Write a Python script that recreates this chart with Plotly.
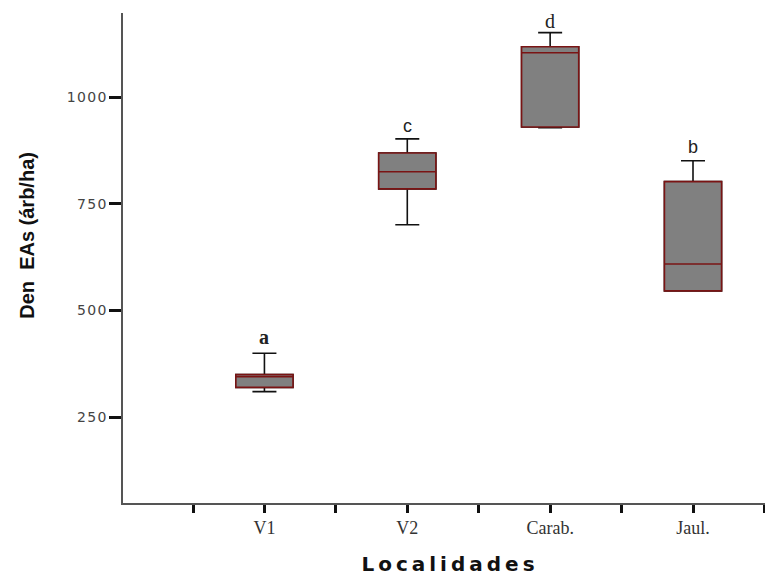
import plotly.graph_objects as go

categories = ["V1", "V2", "Carab.", "Jaul."]
lower_whisker = [310, 701, 928, 546]
q1 = [320, 785, 930, 546]
median = [345, 825, 1104, 609]
q3 = [350, 869, 1118, 802]
upper_whisker = [400, 902, 1151, 851]
letters = ["<b>a</b>", "c", "d", "b"]
letter_fonts = ["Liberation Serif", "Liberation Sans", "Liberation Serif", "Liberation Sans"]

y_ticks = [250, 500, 750, 1000]

xpos = list(range(len(categories)))
THIN = "\u2009"
HAIR = "\u200a"

fig = go.Figure()

# whiskers (black)
fig.add_trace(go.Box(
    x=xpos, q1=q1, median=median, q3=q3,
    lowerfence=lower_whisker, upperfence=upper_whisker,
    width=0.4, whiskerwidth=0.42,
    fillcolor="#808080", line=dict(color="#111111", width=1.6),
    boxpoints=False, showlegend=False, hoverinfo="skip",
))
# box body with dark red outline and median
fig.add_trace(go.Box(
    x=xpos, q1=q1, median=median, q3=q3,
    lowerfence=q1, upperfence=q3,
    width=0.4, whiskerwidth=0.0,
    fillcolor="#808080", line=dict(color="#7a1414", width=1.6),
    boxpoints=False, showlegend=False, hoverinfo="skip",
))

shifts = [16, 13, 12, 14]
for i, (lab, fnt) in enumerate(zip(letters, letter_fonts)):
    fig.add_annotation(
        x=xpos[i], y=upper_whisker[i], text=lab, showarrow=False,
        yanchor="middle", yshift=shifts[i],
        font=dict(family=fnt, size=20 if fnt.endswith("Serif") else 18, color="#222222"),
    )

# y-axis title placed as a rotated annotation (sits a bit above centre in the original)
fig.add_annotation(
    xref="paper", yref="paper", x=-0.148, y=0.547,
    text="<b>Den  EAs (árb/ha)</b>", textangle=-90, showarrow=False,
    xanchor="center", yanchor="middle",
    font=dict(family="Liberation Sans", size=20, color="#111111"),
)

tickvals = []
ticktext = []
for i, c in enumerate(categories):
    tickvals += [i - 0.5, i]
    ticktext += ["", c]
tickvals.append(len(categories) - 0.5)
ticktext.append("")

x_title = THIN.join("Localidades")

fig.update_layout(
    width=773, height=575,
    margin=dict(l=115, r=8, t=5, b=80),
    paper_bgcolor="white", plot_bgcolor="white",
    boxmode="overlay",
    xaxis=dict(
        range=[-0.99, 3.56], tickmode="array", tickvals=tickvals, ticktext=ticktext,
        ticks="outside", ticklen=8, tickwidth=3, tickcolor="#111111",
        showline=True, linecolor="#555555", linewidth=1.5,
        showgrid=False, zeroline=False, automargin=False,
        tickfont=dict(family="Liberation Serif", size=18, color="#333333"),
        title=dict(text="<b>" + x_title + "</b>", standoff=20,
                   font=dict(family="DejaVu Sans", size=20, color="#111111")),
    ),
    yaxis=dict(
        range=[49, 1197], tickmode="array", tickvals=y_ticks,
        ticktext=[HAIR.join(str(v)) for v in y_ticks],
        ticks="outside", ticklen=12, tickwidth=3, tickcolor="#111111",
        showline=True, linecolor="#555555", linewidth=1.5,
        showgrid=False, zeroline=False, automargin=False,
        tickfont=dict(family="DejaVu Sans", size=14, color="#444444"),
    ),
)

fig.write_html("out.html")
